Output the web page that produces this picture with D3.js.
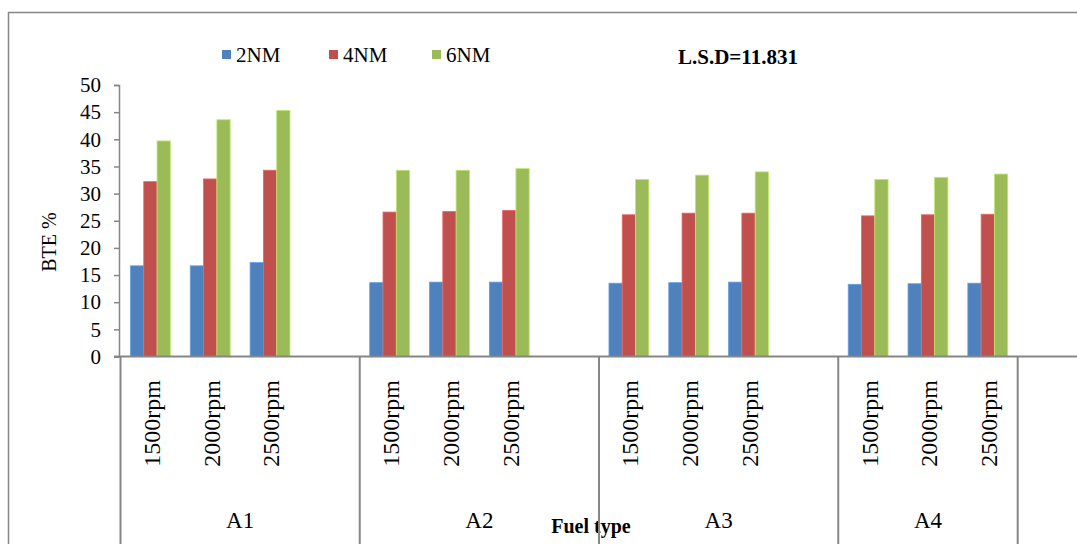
<!DOCTYPE html>
<html><head><meta charset="utf-8">
<script src="https://cdn.jsdelivr.net/npm/d3@7"></script>
<style>
body{margin:0;background:#fff;}
svg{display:block;}
text{font-family:"Liberation Serif","Times New Roman",serif;fill:#000;}
</style>
</head><body>
<svg id="c" width="1077" height="544"></svg>
<script>
// ---- data ----
const groups = ["A1","A2","A3","A4"];
const speeds = ["1500rpm","2000rpm","2500rpm"];
const seriesNames = ["2NM","4NM","6NM"];
const seriesColors = ["#4F81BD","#C0504D","#9BBB59"];
const v2NM = [16.7,16.7,17.3, 13.6,13.7,13.7, 13.5,13.6,13.7, 13.3,13.4,13.5];
const v4NM = [32.2,32.7,34.3, 26.6,26.7,26.9, 26.1,26.4,26.4, 25.9,26.1,26.2];
const v6NM = [39.7,43.6,45.3, 34.3,34.3,34.6, 32.6,33.4,34.0, 32.6,33.0,33.6];
const yTicks = [0,5,10,15,20,25,30,35,40,45,50];
const yTitle = "BTE %";
const xTitle = "Fuel type";
const lsdLabel = "L.S.D=11.831";

// ---- category slots (Excel multi-level axis with blank rows) ----
const slotGroups = [];
groups.forEach((g,gi)=>{
  const rows = speeds.slice();
  if (gi < groups.length-1) rows.push("");
  slotGroups.push({group:g, rows});
});
slotGroups.push({group:"", rows:[""]});
const slots = [];
slotGroups.forEach((sg,gi)=>sg.rows.forEach((r,ri)=>slots.push({id:gi+"|"+ri, group:sg.group, row:r})));

const seriesVals = [v2NM, v4NM, v6NM];
const dataRows = [];
groups.forEach((g,gi)=>speeds.forEach((s,si)=>{
  const k = gi*speeds.length+si;
  dataRows.push({id:gi+"|"+si, vals: seriesNames.map((n,ni)=>({name:n, v:seriesVals[ni][k], c:seriesColors[ni]}))});
}));

// ---- layout ----
const svg = d3.select("#c");
const axisCol = "#868686";
const x0 = 120.5, x1 = 1077.5;
const yB = 356.5, yT = 85;

svg.append("rect").attr("x",8.5).attr("y",12.5).attr("width",1200).attr("height",700)
  .attr("fill","none").attr("stroke",axisCol).attr("stroke-width",1.5);

const x = d3.scaleBand().domain(slots.map(d=>d.id)).range([x0,x1]).paddingInner(0).paddingOuter(0);
const xs = d3.scaleBand().domain(seriesNames).range([0,x.bandwidth()]).paddingInner(0).paddingOuter(0.75);
const y = d3.scaleLinear().domain([0,50]).range([yB,yT]);

const g = svg.append("g");
dataRows.forEach(r=>{
  g.selectAll(null).data(r.vals).enter().append("rect")
    .attr("x",d=>x(r.id)+xs(d.name))
    .attr("y",d=>y(d.v))
    .attr("width",xs.bandwidth())
    .attr("height",d=>y(0)-y(d.v))
    .attr("fill",d=>d.c)
    .attr("stroke",d=>d3.color(d.c).brighter(0.6))
    .attr("stroke-width",0.8);
});

const ya = svg.append("g").attr("transform","translate(119,0)")
  .call(d3.axisLeft(y).tickValues(yTicks).tickSize(5).tickPadding(13));
ya.select(".domain").attr("stroke",axisCol).attr("stroke-width",1.5);
ya.selectAll(".tick line").attr("stroke",axisCol).attr("stroke-width",1.5);
ya.selectAll(".tick text").attr("font-family","Liberation Serif").attr("font-size",21).attr("fill","#000");

svg.append("line").attr("x1",114).attr("x2",1077).attr("y1",yB).attr("y2",yB)
  .attr("stroke",axisCol).attr("stroke-width",2);

let acc = 0;
const bounds = [x0];
slotGroups.forEach(sg=>{acc += sg.rows.length; bounds.push(x0 + acc*x.step());});

slots.filter(s=>s.row!=="").forEach(s=>{
  const cx = x(s.id)+x.bandwidth()/2+1;
  svg.append("text").attr("transform",`translate(${cx},380) rotate(-90)`)
    .attr("text-anchor","end").attr("dy","0.35em").attr("font-size",24).text(s.row);
});

slotGroups.forEach((sg,i)=>{
  if (!sg.group) return;
  const cx = (bounds[i]+bounds[i+1])/2;
  svg.append("text").attr("x",cx).attr("y",528).attr("text-anchor","middle")
    .attr("font-size",23).text(sg.group);
});

svg.append("text").attr("x",591).attr("y",533).attr("text-anchor","middle")
  .attr("font-size",20).attr("font-weight","bold").text(xTitle);

bounds.slice(0,-1).forEach(b=>{
  svg.append("line").attr("x1",b).attr("x2",b).attr("y1",yB).attr("y2",544)
    .attr("stroke",axisCol).attr("stroke-width",2);
});

svg.append("text").attr("transform","translate(56,242) rotate(-90)")
  .attr("text-anchor","middle").attr("font-size",20).text(yTitle);

const legX = [222, 329, 432];
seriesNames.forEach((n,i)=>{
  svg.append("rect").attr("x",legX[i]).attr("y",50).attr("width",9).attr("height",9).attr("fill",seriesColors[i]);
  svg.append("text").attr("x",legX[i]+14).attr("y",62).attr("font-size",21).text(n);
});
svg.append("text").attr("x",678).attr("y",64).attr("font-size",21).attr("font-weight","bold").text(lsdLabel);
</script>
</body></html>
